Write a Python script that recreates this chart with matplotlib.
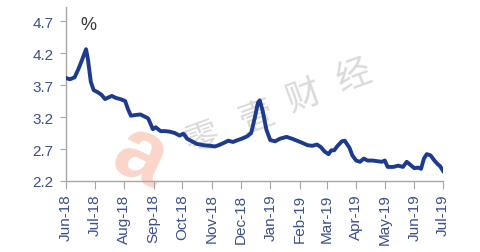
import matplotlib
matplotlib.use("Agg")
import matplotlib.pyplot as plt
import matplotlib.dates as mdates
import pandas as pd

dates = ["2018-06-01","2018-06-05","2018-06-10","2018-06-14","2018-06-18","2018-06-22","2018-06-24",
         "2018-06-27","2018-06-30","2018-07-04","2018-07-08","2018-07-12","2018-07-16","2018-07-19",
         "2018-07-23","2018-07-28","2018-08-02","2018-08-05","2018-08-08","2018-08-12","2018-08-18",
         "2018-08-22","2018-08-26","2018-08-29","2018-08-31","2018-09-03","2018-09-08","2018-09-13",
         "2018-09-18","2018-09-23","2018-09-28","2018-10-02","2018-10-06","2018-10-11","2018-10-16",
         "2018-10-23","2018-10-30","2018-11-04","2018-11-08","2018-11-14","2018-11-18","2018-11-23",
         "2018-11-28","2018-12-02","2018-12-08","2018-12-12","2018-12-16","2018-12-19","2018-12-21",
         "2018-12-24","2018-12-28","2019-01-01","2019-01-06","2019-01-11","2019-01-18","2019-01-24",
         "2019-01-29","2019-02-03","2019-02-09","2019-02-14","2019-02-19","2019-02-23","2019-02-27",
         "2019-03-03","2019-03-06","2019-03-09","2019-03-12","2019-03-17","2019-03-20","2019-03-25",
         "2019-03-28","2019-04-01","2019-04-05","2019-04-09","2019-04-13","2019-04-18","2019-04-23",
         "2019-04-28","2019-05-01","2019-05-04","2019-05-10","2019-05-15","2019-05-20","2019-05-24",
         "2019-05-28","2019-06-01","2019-06-05","2019-06-08","2019-06-11","2019-06-14","2019-06-18",
         "2019-06-22","2019-06-25","2019-06-28","2019-07-01"]
values = [3.81,3.79,3.82,3.95,4.10,4.26,4.10,
          3.75,3.62,3.59,3.55,3.48,3.51,3.53,
          3.50,3.48,3.45,3.32,3.22,3.23,3.24,
          3.21,3.18,3.08,3.01,3.04,2.98,2.98,
          2.97,2.95,2.91,2.94,2.86,2.82,2.78,
          2.76,2.75,2.74,2.76,2.80,2.83,2.81,
          2.84,2.86,2.90,2.95,3.20,3.42,3.46,
          3.30,3.00,2.84,2.82,2.86,2.89,2.86,
          2.83,2.80,2.76,2.75,2.77,2.73,2.66,
          2.62,2.68,2.68,2.74,2.82,2.83,2.72,
          2.60,2.52,2.50,2.55,2.52,2.52,2.51,
          2.50,2.52,2.42,2.42,2.44,2.42,2.50,
          2.45,2.40,2.41,2.39,2.55,2.62,2.60,
          2.52,2.47,2.43,2.36]
ytick_vals = [2.2, 2.7, 3.2, 3.7, 4.2, 4.7]
xtick_dates = pd.date_range("2018-06-01", "2019-07-01", freq="MS")
watermark_chars = ["零", "壹", "财", "经"]

x = pd.to_datetime(dates)

fig = plt.figure(figsize=(4.81, 2.53), dpi=100)
ax = fig.add_axes([66/481, 1-182/253, (443-66)/481, (182-8)/253])
ax.patch.set_alpha(0)

tick_color = "#3b4f8c"

# watermark (behind)
wm_pos = [(203, 140), (257, 118), (304, 96), (354, 76)]
for ch, (px, py) in zip(watermark_chars, wm_pos):
    fig.text(px/481, 1-py/253, ch, fontsize=25, color="#dadada",
             family=["Noto Sans CJK SC", "DejaVu Sans"], rotation=20,
             ha="center", va="center", zorder=-5)
fig.text(140/481, 1-158/253, "a", fontsize=64, color="#fad6ca", weight="bold",
         family="Liberation Sans", rotation=-25, ha="center", va="center", zorder=-5)

ax.plot(x, values, color="#1c3a8e", lw=2.8, solid_joinstyle="round", zorder=3)

ax.set_xlim(pd.Timestamp("2018-06-01"), pd.Timestamp("2019-07-01"))
ax.set_ylim(2.2, 4.92)
ax.set_yticks(ytick_vals)
ax.set_yticklabels([f"{v:.1f}" for v in ytick_vals])
ax.set_xticks(xtick_dates)
ax.xaxis.set_major_formatter(mdates.DateFormatter("%b-%y"))

for s in ["top", "right"]:
    ax.spines[s].set_visible(False)
for s in ["left", "bottom"]:
    ax.spines[s].set_color("#a6a6a6")
    ax.spines[s].set_linewidth(1.0)

ax.tick_params(axis="y", direction="out", length=4, color="#a6a6a6", labelcolor=tick_color,
               labelsize=11, pad=5)
ax.tick_params(axis="x", direction="out", length=6, color="#a6a6a6", labelcolor=tick_color,
               labelsize=11, pad=3, labelrotation=90)
for lab in ax.get_xticklabels() + ax.get_yticklabels():
    lab.set_fontfamily("Liberation Sans")

fig.text(88/481, 1-25/253, "%", fontsize=13, color="#333333", family="Liberation Sans",
         ha="center", va="center")

fig.savefig("out.png", dpi=100)
